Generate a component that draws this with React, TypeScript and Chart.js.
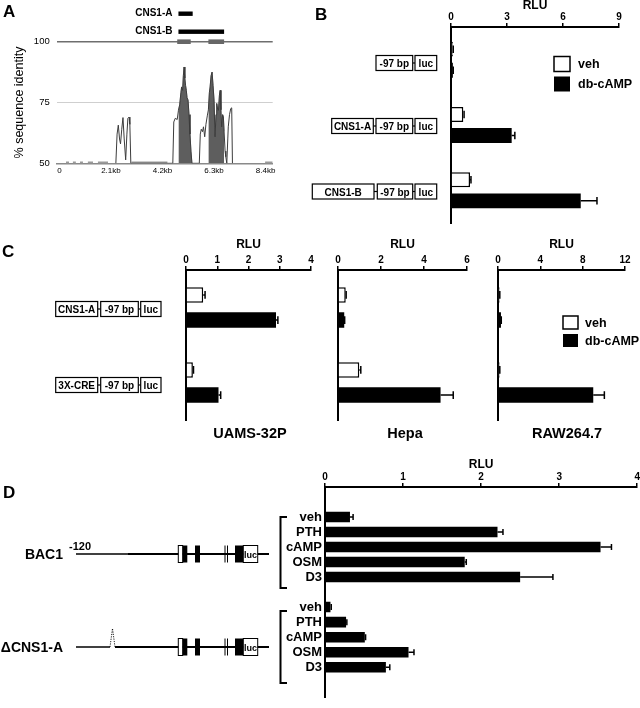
import React, { useEffect, useRef } from 'react';
import { Chart, registerables } from 'chart.js';

Chart.register(...registerables);

const FONT = "'Liberation Sans', Arial, Helvetica, sans-serif";
Chart.defaults.font.family = FONT;
Chart.defaults.color = '#000';

// ---------- Panel A: % sequence identity ----------
const identityKb = [
  2.30, 2.35, 2.40, 2.45, 2.49, 2.54, 2.59, 2.64, 2.70, 2.75, 2.79, 2.84, 2.87, 2.91,
  4.62, 4.66, 4.72, 4.80, 4.85, 4.90, 4.95, 4.98, 5.02, 5.05, 5.08, 5.11, 5.14, 5.17, 5.20, 5.24, 5.28, 5.32, 5.36, 5.40,
  5.70, 5.74, 5.78, 5.83, 5.87, 5.92, 5.97, 6.03, 6.07, 6.11, 6.14, 6.18, 6.22, 6.26, 6.30, 6.34, 6.38, 6.41, 6.45, 6.48,
  6.52, 6.55, 6.58, 6.61, 6.65, 6.68, 6.71, 6.75, 6.78, 6.82, 6.86, 6.88, 6.93, 6.98, 7.02, 7.05,
];
const identityPct = [
  50, 62, 65.7, 60, 58, 64, 68.8, 60, 51.4, 62, 68.5, 69, 66, 50,
  50, 67, 68.5, 68, 71.8, 74, 79, 81.4, 80, 86, 89.6, 85, 82, 80, 77, 76, 70, 62, 55, 50,
  50, 62, 64, 63, 65, 60.9, 66, 69.8, 72, 79, 81.4, 86, 87.5, 82, 76, 60.9, 70, 74.6, 72, 71.8,
  78, 80, 72, 65, 70, 69.1, 63, 55, 52.7, 50, 60, 65, 70, 72.5, 72.8, 50,
];
const conservedStart = [4.85, 6.07];
const conservedEnd = [5.40, 6.71];
const lowStart = [0.27, 0.55, 0.84, 1.16, 1.57, 2.94, 8.38];
const lowEnd = [0.39, 0.67, 0.96, 1.37, 1.98, 4.40, 8.69];
const cnsLabels = ['CNS1-A', 'CNS1-B'];
const cnsStart = [4.85, 4.85];
const cnsEnd = [5.43, 6.71];
const exonStart = [4.80, 6.07];
const exonEnd = [5.35, 6.71];
const aTickValues = [0, 2.1, 4.2, 6.3, 8.4];
const aTickLabels = ['0', '2.1kb', '4.2kb', '6.3kb', '8.4kb'];

// ---------- Panel B ----------
const bConstructs = ['-97 bp-luc', 'CNS1-A', 'CNS1-B'];
const bVeh = [0.1, 0.66, 1.02];
const bVehErr = [0.02, 0.04, 0.05];
const bDb = [0.1, 3.25, 6.95];
const bDbErr = [0.02, 0.17, 0.87];

// ---------- Panel C ----------
const cConstructs = ['CNS1-A', '3X-CRE'];
const uamsVeh = [0.55, 0.22];
const uamsVehErr = [0.06, 0.02];
const uamsDb = [2.88, 1.04];
const uamsDbErr = [0.06, 0.07];
const hepaVeh = [0.36, 0.99];
const hepaVehErr = [0.02, 0.07];
const hepaDb = [0.29, 4.77];
const hepaDbErr = [0.02, 0.59];
const rawVeh = [0.15, 0.15];
const rawVehErr = [0.02, 0.02];
const rawDb = [0.28, 9.0];
const rawDbErr = [0.03, 1.05];

// ---------- Panel D ----------
const treatments = ['veh', 'PTH', 'cAMP', 'OSM', 'D3'];
const bac1Rlu = [0.32, 2.21, 3.53, 1.79, 2.5];
const bac1Err = [0.04, 0.07, 0.14, 0.02, 0.42];
const deltaRlu = [0.07, 0.27, 0.51, 1.07, 0.78];
const deltaErr = [0.01, 0.01, 0.01, 0.07, 0.05];

const W = 640;
const H = 708;

const errorBarPlugin = {
  id: 'errorBars',
  afterDatasetsDraw(chart: any) {
    const ctx = chart.ctx;
    const xs = chart.scales.x;
    chart.data.datasets.forEach((ds: any, i: number) => {
      if (!ds.errors) return;
      const meta = chart.getDatasetMeta(i);
      meta.data.forEach((bar: any, j: number) => {
        const v = ds.data[j];
        const e = ds.errors[j];
        if (v == null || e == null) return;
        const x0 = xs.getPixelForValue(v);
        const x1 = xs.getPixelForValue(v + e);
        const y = bar.y;
        const cap = Math.max(3, bar.height * 0.25);
        ctx.save();
        ctx.strokeStyle = '#000';
        ctx.lineWidth = 1.5;
        ctx.beginPath();
        ctx.moveTo(x0, y);
        ctx.lineTo(x1, y);
        ctx.moveTo(x1, y - cap);
        ctx.lineTo(x1, y + cap);
        ctx.stroke();
        ctx.restore();
      });
    });
  },
};

function rluAxis(max: number, step: number, height: number) {
  return {
    type: 'linear',
    position: 'top',
    min: 0,
    max,
    ticks: { stepSize: step, font: { size: 10, weight: 'bold', family: FONT }, color: '#000', padding: 0, maxRotation: 0 },
    grid: { display: true, drawOnChartArea: false, drawTicks: true, tickLength: 4, color: '#000', lineWidth: 1.5 },
    border: { display: true, color: '#000', width: 2 },
    title: { display: true, text: 'RLU', color: '#000', font: { size: 12, weight: 'bold', family: FONT, lineHeight: 1 }, padding: 0 },
    afterFit: (s: any) => { s.height = height; },
  };
}

function barConfig(p: any) {
  return {
    type: 'bar',
    data: {
      labels: p.labels,
      datasets: [
        { label: 'veh', data: p.veh, errors: p.vehErr, backgroundColor: '#fff', borderColor: '#000', borderWidth: 1.5, categoryPercentage: p.cp, barPercentage: p.bp },
        { label: 'db-cAMP', data: p.db, errors: p.dbErr, backgroundColor: '#000', borderWidth: 0, categoryPercentage: p.cp, barPercentage: p.bp },
      ],
    },
    options: {
      indexAxis: 'y',
      responsive: false,
      animation: false,
      devicePixelRatio: 1,
      events: [],
      layout: { padding: { left: p.left, right: W - p.right, top: p.axisTop, bottom: H - p.bottom } },
      plugins: { legend: { display: false }, tooltip: { enabled: false } },
      scales: {
        x: rluAxis(p.max, p.step, p.top - p.axisTop),
        y: {
          type: 'category',
          ticks: { display: false },
          grid: { display: false, drawTicks: false },
          border: { display: true, color: '#000', width: 2 },
          afterFit: (s: any) => { s.width = 0; },
        },
      },
    },
    plugins: [errorBarPlugin],
  };
}

function configA() {
  const curve = identityKb.map((x, i) => ({ x, y: identityPct[i] }));
  const filled: any[] = [];
  conservedStart.forEach((s, k) => {
    curve.forEach((pt) => { if (pt.x >= s && pt.x <= conservedEnd[k]) filled.push(pt); });
    filled.push({ x: conservedEnd[k] + 0.01, y: null });
  });
  const low: any[] = [];
  lowStart.forEach((s, k) => {
    low.push({ x: s, y: 50 }, { x: lowEnd[k], y: 50 }, { x: lowEnd[k] + 0.001, y: null });
  });
  const annot = {
    id: 'cnsAnnot',
    afterDraw(chart: any) {
      const ctx = chart.ctx;
      const xs = chart.scales.x;
      const ys = chart.scales.y;
      const top = chart.chartArea.top;
      ctx.save();
      ctx.fillStyle = '#676767';
      const y100 = ys.getPixelForValue(100);
      exonStart.forEach((s, k) => {
        const a = xs.getPixelForValue(s);
        const b = xs.getPixelForValue(exonEnd[k]);
        ctx.fillRect(a, y100 - 2.3, b - a, 4.6);
      });
      cnsLabels.forEach((lab, k) => {
        const y = top - 28 + k * 18;
        const a = xs.getPixelForValue(cnsStart[k]);
        const b = xs.getPixelForValue(cnsEnd[k]);
        ctx.fillStyle = '#000';
        ctx.fillRect(a, y - 2.2, b - a, 4.4);
        ctx.font = `bold 10px ${FONT}`;
        ctx.textAlign = 'right';
        ctx.textBaseline = 'middle';
        ctx.fillText(lab, a - 6, y);
      });
      ctx.restore();
    },
  };
  return {
    type: 'line',
    data: {
      datasets: [
        { data: curve, borderColor: '#3c3c3c', borderWidth: 1, pointRadius: 0, fill: false, tension: 0 },
        { data: filled, borderColor: '#5e5e5e', borderWidth: 0.5, backgroundColor: '#5e5e5e', pointRadius: 0, fill: 'start', spanGaps: false },
        { data: low, borderColor: '#9a9a9a', borderWidth: 3.5, pointRadius: 0, fill: false, spanGaps: false },
      ],
    },
    options: {
      responsive: false,
      animation: false,
      devicePixelRatio: 1,
      events: [],
      layout: { padding: { left: 0, right: W - 272.7, top: 41.7, bottom: H - 163.3 - 20 } },
      plugins: { legend: { display: false }, tooltip: { enabled: false } },
      scales: {
        x: {
          type: 'linear',
          min: -0.11,
          max: 8.69,
          afterBuildTicks: (s: any) => { s.ticks = aTickValues.map((v) => ({ value: v })); },
          ticks: { callback: (_v: any, i: number) => aTickLabels[i], font: { size: 8, family: FONT }, color: '#000', padding: 3, maxRotation: 0, autoSkip: false },
          grid: { display: false, drawTicks: false },
          border: { display: true, color: '#8a8a8a', width: 1.5 },
          afterFit: (s: any) => { s.height = 20; },
        },
        y: {
          type: 'linear',
          min: 50,
          max: 100,
          ticks: { stepSize: 25, font: { size: 9.5, family: FONT }, color: '#000', padding: 7 },
          grid: {
            drawTicks: false,
            color: (c: any) => (c.tick && c.tick.value === 100 ? '#6e6e6e' : c.tick && c.tick.value === 75 ? '#cfcfcf' : 'rgba(0,0,0,0)'),
            lineWidth: (c: any) => (c.tick && c.tick.value === 100 ? 1.5 : 1),
          },
          border: { display: false },
          title: { display: true, text: '% sequence identity', color: '#000', font: { size: 12.5, family: FONT }, padding: { top: 12, bottom: 0 } },
          afterFit: (s: any) => { s.width = 56.7; },
        },
      },
    },
    plugins: [annot],
  };
}

function configD() {
  const labels = ['', '', ...treatments, '', ...treatments, '', ''];
  const data = [null, null, ...bac1Rlu, null, ...deltaRlu, null, null];
  const errors = [null, null, ...bac1Err, null, ...deltaErr, null, null];
  return {
    type: 'bar',
    data: {
      labels,
      datasets: [{ data, errors, backgroundColor: '#000', borderWidth: 0, categoryPercentage: 0.8, barPercentage: 0.875 }],
    },
    options: {
      indexAxis: 'y',
      responsive: false,
      animation: false,
      devicePixelRatio: 1,
      events: [],
      layout: { padding: { left: 0, right: W - 637.5, top: 459, bottom: 1 } },
      plugins: { legend: { display: false }, tooltip: { enabled: false } },
      scales: {
        x: rluAxis(4, 1, 28),
        y: {
          type: 'category',
          offset: false,
          ticks: { font: { size: 13, weight: 'bold', family: FONT }, color: '#000', padding: 3, autoSkip: false },
          grid: { display: false, drawTicks: false },
          border: { display: true, color: '#000', width: 2 },
          afterFit: (s: any) => { s.width = 325; },
        },
      },
    },
    plugins: [errorBarPlugin],
  };
}

const configs = [
  configA,
  () => barConfig({ labels: bConstructs, veh: bVeh, vehErr: bVehErr, db: bDb, dbErr: bDbErr, max: 9, step: 3, left: 451, right: 619, axisTop: 0, top: 27, bottom: 223, cp: 0.643, bp: 0.71 }),
  () => barConfig({ labels: cConstructs, veh: uamsVeh, vehErr: uamsVehErr, db: uamsDb, dbErr: uamsDbErr, max: 4, step: 1, left: 186, right: 311, axisTop: 239, top: 270, bottom: 420, cp: 0.667, bp: 0.62 }),
  () => barConfig({ labels: cConstructs, veh: hepaVeh, vehErr: hepaVehErr, db: hepaDb, dbErr: hepaDbErr, max: 6, step: 2, left: 338, right: 467, axisTop: 239, top: 270, bottom: 420, cp: 0.667, bp: 0.62 }),
  () => barConfig({ labels: cConstructs, veh: rawVeh, vehErr: rawVehErr, db: rawDb, dbErr: rawDbErr, max: 12, step: 4, left: 498, right: 625, axisTop: 239, top: 270, bottom: 420, cp: 0.667, bp: 0.62 }),
  configD,
];

function ChartLayer({ build }: { build: () => any }) {
  const ref = useRef<HTMLCanvasElement>(null);
  useEffect(() => {
    const chart = new Chart(ref.current as HTMLCanvasElement, build());
    return () => chart.destroy();
  }, []);
  return <canvas ref={ref} width={W} height={H} style={{ position: 'absolute', left: 0, top: 0, width: W, height: H }} />;
}

type Part = { x1: number; x2: number; label: string };

function Construct({ parts, cy, h = 15 }: { parts: Part[]; cy: number; h?: number }) {
  return (
    <g>
      {parts.slice(1).map((p, i) => (
        <line key={'c' + i} x1={parts[i].x2} x2={p.x1} y1={cy} y2={cy} stroke="#000" strokeWidth={1.2} />
      ))}
      {parts.map((p, i) => (
        <g key={i}>
          <rect x={p.x1} y={cy - h / 2} width={p.x2 - p.x1} height={h} fill="#fff" stroke="#000" strokeWidth={1.2} />
          <text x={(p.x1 + p.x2) / 2} y={cy + 0.5} textAnchor="middle" dominantBaseline="central" fontSize={10} fontWeight="bold">{p.label}</text>
        </g>
      ))}
    </g>
  );
}

function Gene({ cy, deletion }: { cy: number; deletion?: boolean }) {
  const t = cy - 8.5;
  const h = 17;
  return (
    <g>
      {deletion ? (
        <g>
          <line x1={76} x2={110} y1={cy} y2={cy} stroke="#000" strokeWidth={1.6} />
          <polyline points={`110,${cy} 112.5,${cy - 18.5} 115,${cy}`} fill="none" stroke="#000" strokeWidth={0.9} strokeDasharray="1.2,1.2" />
          <line x1={115} x2={269} y1={cy} y2={cy} stroke="#000" strokeWidth={1.8} />
        </g>
      ) : (
        <g>
          <line x1={76} x2={128} y1={cy} y2={cy} stroke="#000" strokeWidth={1.3} />
          <line x1={128} x2={269} y1={cy} y2={cy} stroke="#000" strokeWidth={2} />
        </g>
      )}
      <rect x={178.3} y={t} width={4.4} height={h} fill="#fff" stroke="#000" strokeWidth={1} />
      <rect x={182.7} y={t} width={4.6} height={h} fill="#000" />
      <rect x={195} y={t} width={5} height={h} fill="#000" />
      <line x1={225} x2={225} y1={t} y2={t + h} stroke="#000" strokeWidth={1} />
      <line x1={227.5} x2={227.5} y1={t} y2={t + h} stroke="#000" strokeWidth={1} />
      <rect x={235} y={t} width={8.3} height={h} fill="#000" />
      <rect x={243.3} y={t} width={14.4} height={h} fill="#fff" stroke="#000" strokeWidth={1} />
      <text x={250.5} y={cy + 0.5} textAnchor="middle" dominantBaseline="central" fontSize={9} fontWeight="bold">luc</text>
    </g>
  );
}

function Legend({ x, y, w, h, gap, tx }: { x: number; y: number; w: number; h: number; gap: number; tx: number }) {
  return (
    <g>
      <rect x={x} y={y} width={w} height={h} fill="#fff" stroke="#000" strokeWidth={1.5} />
      <rect x={x} y={y + gap} width={w} height={h} fill="#000" />
      <text x={x + tx} y={y + h / 2} dominantBaseline="central" fontSize={12.5} fontWeight="bold">veh</text>
      <text x={x + tx} y={y + gap + h / 2} dominantBaseline="central" fontSize={12.5} fontWeight="bold">db-cAMP</text>
    </g>
  );
}

function Overlay() {
  const pcoreB = { x1: 376, x2: 412.7, label: '-97 bp' };
  const lucB = { x1: 415, x2: 436.7, label: 'luc' };
  const pcoreC = { x1: 100.7, x2: 138.3, label: '-97 bp' };
  const lucC = { x1: 140.7, x2: 161, label: 'luc' };
  return (
    <svg width={W} height={H} style={{ position: 'absolute', left: 0, top: 0 }} fontFamily={FONT}>
      <text x={3} y={11} dominantBaseline="central" fontSize={17} fontWeight="bold">A</text>
      <text x={315} y={14} dominantBaseline="central" fontSize={17} fontWeight="bold">B</text>
      <text x={2} y={251} dominantBaseline="central" fontSize={17} fontWeight="bold">C</text>
      <text x={3} y={492} dominantBaseline="central" fontSize={17} fontWeight="bold">D</text>

      <Construct cy={63} parts={[pcoreB, lucB]} />
      <Construct cy={126} parts={[{ x1: 331.7, x2: 373.3, label: 'CNS1-A' }, pcoreB, lucB]} />
      <Construct cy={191.5} parts={[{ x1: 312.3, x2: 374, label: 'CNS1-B' }, { x1: 377.3, x2: 412.7, label: '-97 bp' }, lucB]} />
      <Legend x={554} y={56.5} w={16} h={15} gap={20} tx={24} />

      <Construct cy={309} parts={[{ x1: 55.7, x2: 97.7, label: 'CNS1-A' }, pcoreC, lucC]} />
      <Construct cy={385} parts={[{ x1: 55.7, x2: 97.7, label: '3X-CRE' }, pcoreC, lucC]} />
      <Legend x={563} y={316} w={15} h={13} gap={18} tx={22} />
      <text x={250} y={433} textAnchor="middle" dominantBaseline="central" fontSize={14.5} fontWeight="bold">UAMS-32P</text>
      <text x={405} y={433} textAnchor="middle" dominantBaseline="central" fontSize={14.5} fontWeight="bold">Hepa</text>
      <text x={567} y={433} textAnchor="middle" dominantBaseline="central" fontSize={14.5} fontWeight="bold">RAW264.7</text>

      <text x={63} y={554} textAnchor="end" dominantBaseline="central" fontSize={14} fontWeight="bold">BAC1</text>
      <text x={69} y={545.5} dominantBaseline="central" fontSize={11} fontWeight="bold">-120</text>
      <Gene cy={554} />
      <text x={63} y={647} textAnchor="end" dominantBaseline="central" fontSize={14} fontWeight="bold">ΔCNS1-A</text>
      <Gene cy={647} deletion />
      <path d="M287 517 H280.5 V588 H287" fill="none" stroke="#000" strokeWidth={2} />
      <path d="M287 611 H280.5 V683 H287" fill="none" stroke="#000" strokeWidth={2} />
    </svg>
  );
}

export default function App() {
  return (
    <div style={{ position: 'absolute', left: 0, top: 0, width: W, height: H, background: '#fff', overflow: 'hidden' }}>
      {configs.map((b, i) => (
        <ChartLayer key={i} build={b} />
      ))}
      <Overlay />
    </div>
  );
}
